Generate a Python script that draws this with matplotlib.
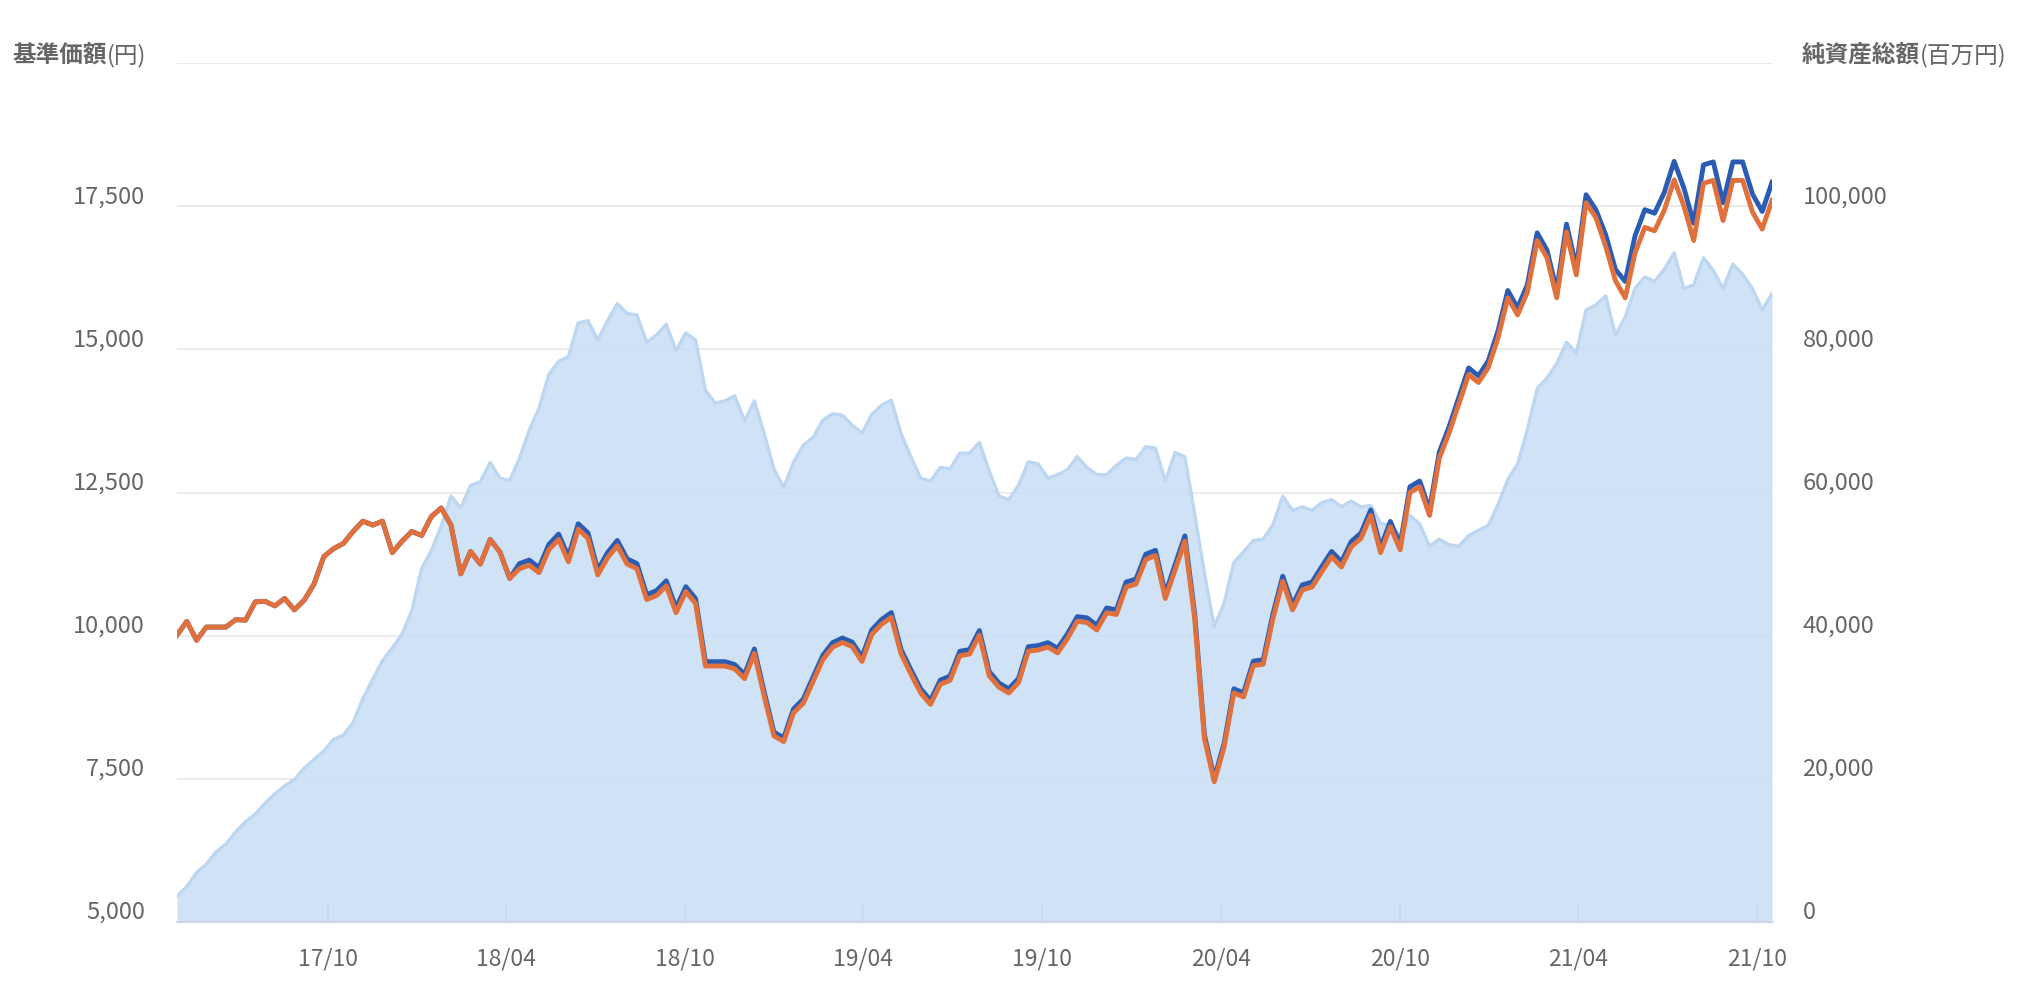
import matplotlib
matplotlib.use("Agg")
import matplotlib.pyplot as plt
import matplotlib.dates as mdates
from matplotlib.transforms import ScaledTranslation
import pandas as pd

plt.rcParams['font.family'] = ['Noto Sans CJK JP', 'DejaVu Sans']

# sample dates: one reading every 10 days across the chart
dates = pd.date_range('2017-04-30', periods=164, freq='10D')

# 基準価額 (円)
nav = [
    10010, 10250, 9920, 10150, 10150, 10150, 10280, 10270, 10590, 10600,
    10520, 10650, 10450, 10620, 10900, 11380, 11520, 11610, 11820, 12000,
    11930, 12000, 11450, 11650, 11820, 11750, 12080, 12230, 11930, 11080,
    11470, 11250, 11680, 11460, 11000, 11170, 11230, 11100, 11500, 11680,
    11290, 11860, 11700, 11060, 11360, 11570, 11250, 11170, 10630, 10700,
    10870, 10400, 10770, 10560, 9470, 9470, 9470, 9420, 9250, 9690,
    8950, 8250, 8150, 8650, 8820, 9200, 9580, 9800, 9880, 9810,
    9550, 10020, 10200, 10320, 9680, 9330, 9000, 8800, 9150, 9220,
    9650, 9680, 10010, 9300, 9100, 9000, 9180, 9730, 9750, 9800,
    9700, 9950, 10250, 10230, 10100, 10400, 10370, 10850, 10900, 11330,
    11400, 10650, 11150, 11650, 10300, 8200, 7450, 8050, 9000, 8930,
    9480, 9500, 10300, 10950, 10450, 10800, 10850, 11120, 11380, 11200,
    11550, 11700, 12100, 11450, 11900, 11500, 12500, 12600, 12100, 13100,
    13540, 14050, 14560, 14420, 14680, 15200, 15900, 15600, 16000, 16900,
    16600, 15900, 17050, 16300, 17560, 17300, 16800, 16200, 15900, 16680,
    17130, 17070, 17430, 17960, 17500, 16900, 17900, 17950, 17250, 17950,
    17950, 17400, 17100, 17600,
]

# 基準価額 (分配金再投資)
nav_reinvested = [
    10010, 10250, 9920, 10150, 10150, 10150, 10280, 10270, 10590, 10600,
    10520, 10650, 10450, 10620, 10900, 11380, 11520, 11610, 11820, 12000,
    11930, 12000, 11450, 11650, 11820, 11750, 12080, 12230, 11930, 11080,
    11470, 11250, 11680, 11460, 11000, 11259, 11320, 11189, 11592, 11773,
    11380, 11955, 11794, 11148, 11451, 11663, 11340, 11259, 10715, 10786,
    10957, 10483, 10856, 10644, 9546, 9546, 9546, 9495, 9324, 9768,
    9022, 8316, 8215, 8719, 8891, 9274, 9657, 9878, 9959, 9888,
    9626, 10100, 10282, 10403, 9757, 9405, 9072, 8870, 9223, 9294,
    9727, 9757, 10090, 9374, 9173, 9072, 9253, 9808, 9828, 9878,
    9778, 10030, 10332, 10312, 10181, 10483, 10453, 10937, 10987, 11421,
    11491, 10735, 11239, 11743, 10382, 8266, 7510, 8114, 9072, 9001,
    9556, 9576, 10382, 11038, 10534, 10886, 10937, 11209, 11471, 11290,
    11642, 11794, 12197, 11542, 11995, 11592, 12600, 12701, 12197, 13205,
    13648, 14162, 14676, 14535, 14797, 15322, 16027, 15725, 16128, 17035,
    16733, 16027, 17186, 16430, 17700, 17438, 17002, 16394, 16186, 16980,
    17438, 17377, 17744, 18283, 17815, 17204, 18222, 18273, 17561, 18273,
    18273, 17713, 17408, 17917,
]

# 純資産総額 (百万円)
net_assets = [
    3600, 4950, 6900, 8100, 9800, 10900, 12600, 14000, 15100, 16600,
    17900, 19000, 19900, 21500, 22700, 23900, 25500, 26100, 27900, 31200,
    33900, 36500, 38300, 40200, 43500, 49400, 51900, 55300, 59500, 57800,
    61000, 61500, 64200, 62000, 61700, 64800, 68700, 71800, 76500, 78300,
    79000, 83700, 84000, 81300, 84000, 86400, 85000, 84800, 81000, 82000,
    83500, 79800, 82300, 81300, 74300, 72500, 72800, 73500, 70000, 72800,
    68300, 63300, 60700, 64200, 66600, 67700, 70100, 71000, 70800, 69400,
    68300, 70900, 72200, 72900, 68200, 65000, 62000, 61600, 63500, 63300,
    65500, 65500, 67000, 63000, 59500, 59000, 61000, 64300, 64000, 62000,
    62500, 63200, 65000, 63500, 62500, 62500, 63800, 64800, 64600, 66400,
    66200, 61600, 65600, 65000, 57000, 48700, 41300, 44500, 50200, 51700,
    53300, 53500, 55500, 59500, 57500, 58000, 57500, 58600, 59000, 58000,
    58800, 58000, 58200, 55700, 55400, 54000, 56800, 55600, 52500, 53500,
    52700, 52500, 54000, 54700, 55400, 58300, 61800, 64000, 68800, 74500,
    76000, 78000, 81000, 79500, 85500, 86200, 87500, 82000, 84500, 88500,
    90100, 89500, 91200, 93500, 88500, 89000, 92800, 91000, 88500, 91900,
    90500, 88500, 85500, 87800,
]

left_ticks = [5000, 7500, 10000, 12500, 15000, 17500, 20000]
right_ticks = [0, 20000, 40000, 60000, 80000, 100000, 120000]

TEXT = '#666666'
GRID = '#e6e6e6'
AXIS = '#ccd6eb'

fig = plt.figure(figsize=(20.3, 9.84), dpi=100)
rect = [177 / 2030, 62 / 984, 1595 / 2030, 859 / 984]
ax2 = fig.add_axes(rect)             # net assets (right scale), drawn below
ax = fig.add_axes(rect, sharex=ax2)  # prices (left scale), drawn on top
ax.set_zorder(2)
ax2.set_zorder(1)
ax.patch.set_visible(False)

# area
ax2.set_axisbelow(True)
ax2.fill_between(dates, net_assets, 0, color='#c8ddf4', alpha=0.85, lw=0, zorder=1)
ax2.plot(dates, net_assets, color='#bdd7f2', lw=2.4, zorder=2)
ax2.set_ylim(right_ticks[0], right_ticks[-1])
ax2.set_yticks(right_ticks)
ax2.set_yticklabels([f'{v:,}' for v in right_ticks[:-1]] + [''])
ax2.yaxis.tick_right()
ax2.grid(axis='y', color=GRID, lw=1.1)
ax2.tick_params(axis='y', length=0, pad=22, labelsize=17, labelcolor=TEXT)
ax2.tick_params(axis='x', which='both', bottom=False, labelbottom=False)

# lines
ax.plot(dates, nav_reinvested, color='#2b5cb4', lw=3.5, solid_joinstyle='round')
ax.plot(dates, nav, color='#e0703c', lw=3.5, solid_joinstyle='round')
ax.set_ylim(left_ticks[0], left_ticks[-1])
ax.set_yticks(left_ticks)
ax.set_yticklabels([f'{v:,}' for v in left_ticks[:-1]] + [''])
ax.tick_params(axis='y', length=0, pad=23, labelsize=17, labelcolor=TEXT)
ax.set_xlim(dates[0], dates[-1])
ax.xaxis.set_major_locator(mdates.MonthLocator(bymonth=[4, 10]))
ax.xaxis.set_major_formatter(mdates.DateFormatter('%y/%m'))
ax.tick_params(axis='x', direction='in', length=14, width=1.2, color=AXIS,
               pad=18, labelsize=16.5, labelcolor=TEXT)

for a in (ax, ax2):
    for s in ('top', 'left', 'right'):
        a.spines[s].set_visible(False)
ax2.spines['bottom'].set_visible(False)
ax.spines['bottom'].set_color(AXIS)
ax.spines['bottom'].set_linewidth(1.6)

# y labels sit a little above their grid lines
lift = ScaledTranslation(0, 12 / fig.dpi, fig.dpi_scale_trans)
for lab in ax.get_yticklabels() + ax2.get_yticklabels():
    lab.set_transform(lab.get_transform() + lift)

# axis titles: bold name followed by the unit in regular weight
t1 = fig.text(12 / 2030, 1 - 67 / 984, '基準価額', fontsize=17, fontweight='bold',
              color=TEXT, ha='left', va='bottom')
fig.add_artist(plt.Annotation('(円)', xy=(1, 0), xycoords=t1, fontsize=17,
                              color=TEXT, ha='left', va='bottom'))
t2 = fig.text(1802 / 2030, 1 - 67 / 984, '純資産総額', fontsize=17, fontweight='bold',
              color=TEXT, ha='left', va='bottom')
fig.add_artist(plt.Annotation('(百万円)', xy=(1, 0), xycoords=t2, fontsize=17,
                              color=TEXT, ha='left', va='bottom'))

fig.savefig('out.png', dpi=100, facecolor='white')
